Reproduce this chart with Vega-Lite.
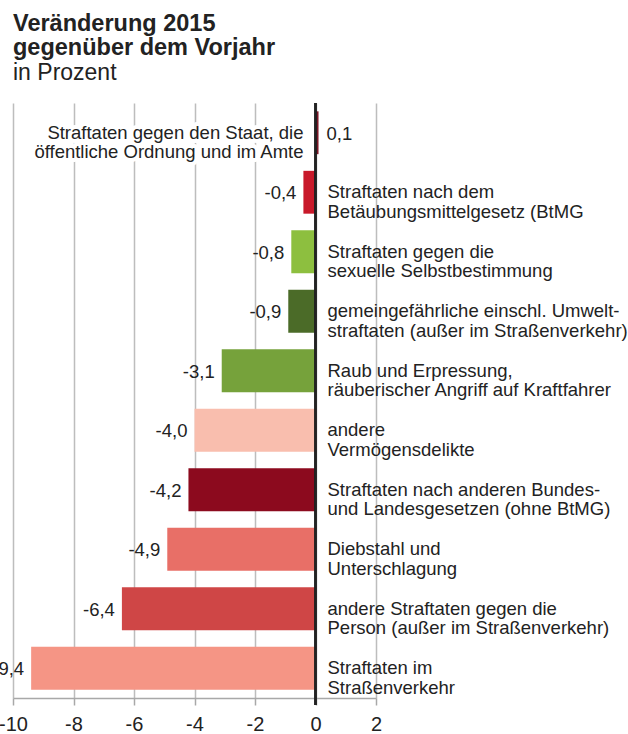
{
  "$schema": "https://vega.github.io/schema/vega-lite/v6.json",
  "autosize": "none",
  "width": 363,
  "height": 595,
  "padding": {"left": 13, "top": 103, "right": 252, "bottom": 36},
  "background": "white",
  "title": {
    "text": ["Veränderung 2015", "gegenüber dem Vorjahr"],
    "subtitle": "in Prozent",
    "anchor": "start",
    "frame": "group",
    "font": "Liberation Sans",
    "fontSize": 23.5,
    "fontWeight": "bold",
    "lineHeight": 23.5,
    "color": "#222222",
    "subtitleFont": "Liberation Sans",
    "subtitleFontSize": 23,
    "subtitleFontWeight": "normal",
    "subtitleColor": "#222222",
    "subtitlePadding": 3,
    "offset": 17
  },
  "config": {
    "view": {"stroke": null},
    "locale": {
      "number": {"decimal": ",", "thousands": ".", "grouping": [3], "currency": ["", " €"], "minus": "-"}
    },
    "text": {"font": "Liberation Sans", "fontSize": 18.5, "color": "#222222", "lineBreak": "\n", "lineHeight": 19.5}
  },
  "data": {
    "values": [
      {"kategorie": "Straftaten gegen den Staat, die\nöffentliche Ordnung und im Amte", "wert": 0.1},
      {"kategorie": "Straftaten nach dem\nBetäubungsmittelgesetz (BtMG", "wert": -0.4},
      {"kategorie": "Straftaten gegen die\nsexuelle Selbstbestimmung", "wert": -0.8},
      {"kategorie": "gemeingefährliche einschl. Umwelt-\nstraftaten (außer im Straßenverkehr)", "wert": -0.9},
      {"kategorie": "Raub und Erpressung,\nräuberischer Angriff auf Kraftfahrer", "wert": -3.1},
      {"kategorie": "andere\nVermögensdelikte", "wert": -4.0},
      {"kategorie": "Straftaten nach anderen Bundes-\nund Landesgesetzen (ohne BtMG)", "wert": -4.2},
      {"kategorie": "Diebstahl und\nUnterschlagung", "wert": -4.9},
      {"kategorie": "andere Straftaten gegen die\nPerson (außer im Straßenverkehr)", "wert": -6.4},
      {"kategorie": "Straftaten im\nStraßenverkehr", "wert": -9.4}
    ]
  },
  "encoding": {
    "y": {
      "field": "kategorie",
      "type": "nominal",
      "sort": null,
      "axis": null,
      "scale": {"paddingInner": 0.28, "paddingOuter": 0.14}
    }
  },
  "layer": [
    {
      "mark": {"type": "bar"},
      "encoding": {
        "x": {
          "field": "wert",
          "type": "quantitative",
          "scale": {"domain": [-10, 2], "nice": false, "zero": false},
          "axis": {
            "title": null,
            "values": [-10, -8, -6, -4, -2, 0, 2],
            "format": "d",
            "grid": true,
            "gridColor": "#bdbdbd",
            "gridWidth": 1.5,
            "domainColor": "#a8a8a8",
            "domainWidth": 1.5,
            "tickColor": "#a8a8a8",
            "tickWidth": 1.5,
            "tickSize": 7,
            "labelFont": "Liberation Sans",
            "labelFontSize": 20,
            "labelColor": "#222222",
            "labelPadding": 9,
            "labelFlush": false,
            "labelOverlap": false
          }
        },
        "color": {
          "field": "kategorie",
          "type": "nominal",
          "legend": null,
          "scale": {
            "domain": [
              "Straftaten gegen den Staat, die\nöffentliche Ordnung und im Amte",
              "Straftaten nach dem\nBetäubungsmittelgesetz (BtMG",
              "Straftaten gegen die\nsexuelle Selbstbestimmung",
              "gemeingefährliche einschl. Umwelt-\nstraftaten (außer im Straßenverkehr)",
              "Raub und Erpressung,\nräuberischer Angriff auf Kraftfahrer",
              "andere\nVermögensdelikte",
              "Straftaten nach anderen Bundes-\nund Landesgesetzen (ohne BtMG)",
              "Diebstahl und\nUnterschlagung",
              "andere Straftaten gegen die\nPerson (außer im Straßenverkehr)",
              "Straftaten im\nStraßenverkehr"
            ],
            "range": ["#7b1626", "#c8192a", "#8dbf3f", "#4b6b28", "#76a23b", "#f9beae", "#8c0a1e", "#e86f67", "#cf4646", "#f59585"]
          }
        }
      }
    },
    {
      "mark": {"type": "rule", "color": "#222222", "strokeWidth": 1.5},
      "encoding": {"x": {"datum": 0}, "y": {"value": 0}, "y2": {"value": 602}}
    },
    {
      "transform": [{"filter": "datum.wert < 0"}],
      "mark": {"type": "text", "align": "right", "baseline": "middle", "dx": -7, "dy": 1},
      "encoding": {
        "x": {"field": "wert", "type": "quantitative"},
        "text": {"field": "wert", "type": "quantitative", "format": ".1f"}
      }
    },
    {
      "transform": [{"filter": "datum.wert >= 0"}],
      "mark": {"type": "text", "align": "left", "baseline": "middle", "dx": 8, "dy": 1},
      "encoding": {
        "x": {"field": "wert", "type": "quantitative"},
        "text": {"field": "wert", "type": "quantitative", "format": ".1f"}
      }
    },
    {
      "transform": [{"filter": "datum.wert < 0"}],
      "mark": {"type": "text", "align": "left", "baseline": "middle", "dx": 12},
      "encoding": {
        "x": {"datum": 0},
        "text": {"field": "kategorie"}
      }
    },
    {
      "transform": [{"filter": "datum.wert >= 0"}],
      "mark": {"type": "text", "align": "right", "baseline": "middle", "dx": -12, "stroke": "white", "strokeWidth": 8, "strokeJoin": "round"},
      "encoding": {
        "x": {"datum": 0},
        "text": {"field": "kategorie"}
      }
    },
    {
      "transform": [{"filter": "datum.wert >= 0"}],
      "mark": {"type": "text", "align": "right", "baseline": "middle", "dx": -12},
      "encoding": {
        "x": {"datum": 0},
        "text": {"field": "kategorie"}
      }
    }
  ]
}
